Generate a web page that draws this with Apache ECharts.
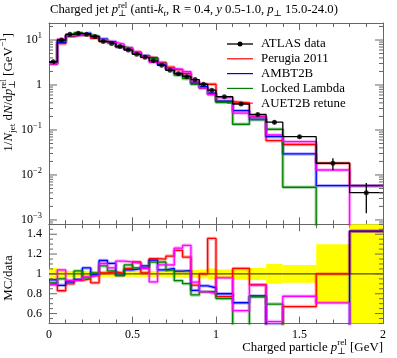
<!DOCTYPE html>
<html><head><meta charset="utf-8">
<script src="https://cdn.jsdelivr.net/npm/echarts@6/dist/echarts.min.js"></script>
<style>html,body{margin:0;padding:0;background:#fff;}#c{width:397px;height:358px;}</style>
</head><body><div id="c"></div>
<script>
// ---------------- data ----------------
const binEdges = [0,0.05,0.1,0.15,0.2,0.25,0.3,0.35,0.4,0.45,0.5,0.55,0.6,0.65,0.7,0.75,0.8,0.85,0.9,0.95,1.0,1.1,1.2,1.3,1.4,1.6,1.8,2.0];
const atlasData   = [3.29,10.0,13.45,14.1,13.45,11.96,9.26,8.36,7.17,5.99,4.81,4.13,3.45,2.74,2.12,1.77,1.53,1.32,1.04,0.766,0.55,0.378,0.221,0.149,0.071,0.0182,0.00404];
const atlasRelErr = [0.06,0.035,0.03,0.03,0.03,0.03,0.03,0.03,0.03,0.03,0.03,0.03,0.03,0.03,0.035,0.035,0.04,0.04,0.045,0.055,0.045,0.06,0.06,0.1,0.09,0.3,0.65];
const perugia2011  = [2.96,8.30,12.1,13.18,12.78,10.88,9.35,8.53,7.21,6.32,5.39,4.17,3.98,3.15,2.50,2.19,1.79,1.17,1.04,1.04,0.424,0.399,0.197,0.0578,0.0476,0.0182,0.00578];
const ambt2b       = [3.09,8.85,12.37,13.32,14.26,11.84,10.51,9.24,7.06,6.23,5.07,4.46,3.93,2.85,2.24,1.82,1.58,1.10,0.915,0.659,0.44,0.268,0.172,0.071,0.0293,0.00578,0.00578];
const lockedLambda = [2.99,9.5,12.44,14.52,12.91,12.08,10.0,8.61,7.06,6.53,5.10,4.38,3.86,3.07,2.20,1.65,1.38,1.04,0.853,0.628,0.413,0.134,0.170,0.1037,0.00533,0,0];
const auet2bRetune = [2.93,10.4,12.58,13.25,13.05,11.78,10.23,8.86,8.10,6.71,5.32,4.36,3.17,2.99,2.31,2.23,1.97,1.21,0.853,0.613,0.528,0.238,0.196,0.0774,0.055,0.0129,0];
const seriesNames  = ['ATLAS data','Perugia 2011','AMBT2B','Locked Lambda','AUET2B retune'];
const xTickLabels  = ['0','0.5','1','1.5','2'];
const logTickExponents = [-3,-2,-1,0,1];
const ratioTickValues  = [0.6,0.8,1,1.2,1.4];
const ratioTickLabels  = ['0.6','0.8','1','1.2','1.4'];

// ---------------- style ----------------
const FF = '"Liberation Serif","DejaVu Serif",serif';
const AX = '#666';
const COLORS = ['#000000','#ff0000','#0000ff','#008000','#ff00ff'];
const Y_MIN = 0.0008, Y_MAX = 23.9;
const mctx = document.createElement('canvas').getContext('2d');
function fontStr(s,it){return (it?'italic ':'')+s+'px '+FF;}
function tw(t,s,it){mctx.font=fontStr(s,it);return mctx.measureText(t).width;}
function textEl(t,x,y,s,it){return {type:'text',x:x,y:y,silent:true,style:{text:t,font:fontStr(s,it),fill:'#000',textAlign:'left',textVerticalAlign:'middle',align:'left',verticalAlign:'middle'}};}
function rich(pieces,base){
  let x=0;const ch=[];
  for(const p of pieces){
    if(p.stack){let w=0;
      for(const q of p.stack){const s=base*0.7;ch.push(textEl(q.t,x,q.sup?-base*0.38:base*0.3,s,q.it));w=Math.max(w,tw(q.t,s,q.it));}
      x+=w;
    } else {
      const s=(p.sup||p.sub)?base*0.7:base;
      const dy=p.sup?-base*0.38:(p.sub?base*0.3:0);
      ch.push(textEl(p.t,x,dy,s,p.it));x+=tw(p.t,s,p.it);
    }
  }
  return {children:ch,width:x};
}
function fitRich(pieces,target){const w=rich(pieces,12).width;return rich(pieces,12*target/w);}

function stepPts(vals,tf){const pts=[];vals.forEach((v,i)=>{const y=tf(v,i);pts.push([binEdges[i],y],[binEdges[i+1],y]);});return pts;}
const mcSets=[perugia2011,ambt2b,lockedLambda,auet2bRetune];

const series=[];
series.push({type:'custom',xAxisIndex:2,yAxisIndex:2,z:1,silent:true,animation:false,
  data:atlasRelErr.map((e,i)=>[binEdges[i],binEdges[i+1],1-e,1+e]),
  renderItem:(p,api)=>{
    const lo=Math.max(0.5,api.value(2)),hi=Math.min(1.5,api.value(3));
    const a=api.coord([api.value(0),hi]),b=api.coord([api.value(1),lo]);
    return {type:'rect',shape:{x:a[0],y:a[1],width:b[0]-a[0],height:b[1]-a[1]},style:{fill:'#ffff00'}};
  }});
series.push({type:'line',xAxisIndex:2,yAxisIndex:2,z:2,symbol:'none',silent:true,animation:false,
  data:stepPts(atlasData,()=>1),lineStyle:{color:'#222',width:1}});
mcSets.forEach((mc,k)=>{
  const col=COLORS[k+1];
  const main=stepPts(mc,v=>v>0?v:1e-9);
  const rat=stepPts(mc,(v,i)=>v/atlasData[i]);
  [[0,main],[2,rat]].forEach(([ax,pts])=>{
    series.push({type:'line',xAxisIndex:ax,yAxisIndex:ax,z:3,symbol:'none',silent:true,animation:false,clip:true,
      data:pts,lineStyle:{color:col,width:3.5,opacity:0.3}});
    series.push({type:'line',name:seriesNames[k+1],xAxisIndex:ax,yAxisIndex:ax,z:4,symbol:'none',silent:true,animation:false,clip:true,
      data:pts,lineStyle:{color:col,width:1.3}});
  });
});
series.push({type:'line',name:seriesNames[0],xAxisIndex:0,yAxisIndex:0,z:5,symbol:'none',silent:true,animation:false,clip:true,
  data:stepPts(atlasData,v=>v),lineStyle:{color:'#000',width:1.3}});
series.push({type:'custom',xAxisIndex:0,yAxisIndex:0,z:6,silent:true,animation:false,
  data:atlasData.map((v,i)=>[(binEdges[i]+binEdges[i+1])/2,v*(1-atlasRelErr[i]),v*(1+atlasRelErr[i])]),
  renderItem:(p,api)=>{const a=api.coord([api.value(0),api.value(1)]),b=api.coord([api.value(0),api.value(2)]);
    return {type:'line',shape:{x1:a[0],y1:a[1],x2:b[0],y2:b[1]},style:{stroke:'#000',lineWidth:1.3}};}});
series.push({type:'scatter',xAxisIndex:0,yAxisIndex:0,z:7,silent:true,animation:false,symbol:'circle',symbolSize:5,
  itemStyle:{color:'#000'},data:atlasData.map((v,i)=>[(binEdges[i]+binEdges[i+1])/2,v])});
function tl(x1,y1,x2,y2){return {type:'line',shape:{x1,y1,x2,y2},style:{stroke:AX,lineWidth:1}};}
const TICK_FS=12;
series.push({type:'custom',xAxisIndex:0,yAxisIndex:0,z:20,silent:true,animation:false,data:[[0,1]],
  renderItem:(p,api)=>{
    const cs=p.coordSys,L=cs.x,R=cs.x+cs.width;const els=[];
    for(let n=-4;n<=1;n++)for(let k=1;k<=9;k++){const v=k*Math.pow(10,n);if(v<Y_MIN||v>Y_MAX)continue;
      const y=api.coord([0,v])[1];const len=k===1?8:4;els.push(tl(L,y,L+len,y),tl(R,y,R-len,y));}
    logTickExponents.forEach(n=>{
      const y=api.coord([0,Math.pow(10,n)])[1];
      const pcs=n===0?[{t:'1'}]:[{t:'10'},{t:(n<0?'\u2212':'')+Math.abs(n),sup:true}];
      const g=rich(pcs,TICK_FS);els.push({type:'group',x:L-7-g.width,y:y,children:g.children});
    });
    return {type:'group',children:els};
  }});
series.push({type:'custom',xAxisIndex:2,yAxisIndex:2,z:20,silent:true,animation:false,data:[[0,1]],
  renderItem:(p,api)=>{
    const cs=p.coordSys,L=cs.x,R=cs.x+cs.width;const els=[];
    for(let i=0;i<=20;i++){const v=0.5+i*0.05;const y=api.coord([0,v])[1];
      const major=ratioTickValues.some(t=>Math.abs(t-v)<1e-6);const len=major?8:4;els.push(tl(L,y,L+len,y),tl(R,y,R-len,y));}
    ratioTickValues.forEach((v,i)=>{const y=api.coord([0,v])[1];const g=rich([{t:ratioTickLabels[i]}],TICK_FS);
      els.push({type:'group',x:L-7-g.width,y:y,children:g.children});});
    return {type:'group',children:els};
  }});

function xAx(g,pos,lab){return {type:'value',gridIndex:g,position:pos,min:0,max:2,interval:0.5,
  axisLine:{show:true,onZero:false,lineStyle:{color:AX,width:1}},
  axisTick:{show:true,inside:true,length:7,lineStyle:{color:AX}},
  minorTick:{show:true,splitNumber:5,length:4,lineStyle:{color:AX}},
  splitLine:{show:false},minorSplitLine:{show:false},
  axisLabel:{show:lab,margin:5,fontFamily:FF,fontSize:TICK_FS,color:'#000',formatter:v=>xTickLabels[Math.round(v/0.5)]}};}
function yAx(g,pos,log){const o={gridIndex:g,position:pos,axisLine:{show:true,onZero:false,lineStyle:{color:AX,width:1}},
  axisTick:{show:false},axisLabel:{show:false},splitLine:{show:false}};
  if(log){o.type='log';o.logBase=10;o.min=Y_MIN;o.max=Y_MAX;}else{o.type='value';o.min=0.5;o.max=1.5;}
  return o;}

const title=fitRich([{t:'Charged jet '},{t:'p',it:true},{stack:[{t:'rel',sup:true},{t:'\u22a5'}]},{t:' (anti-'},{t:'k',it:true},{t:'t',it:true,sub:true},
  {t:', R = 0.4, '},{t:'y',it:true},{t:' 0.5-1.0, '},{t:'p',it:true},{t:'\u22a5',sub:true},{t:' 15.0-24.0)'}],288);
const xTitle=fitRich([{t:'Charged particle '},{t:'p',it:true},{stack:[{t:'rel',sup:true},{t:'\u22a5'}]},{t:' [GeV]'}],141);
const yTitle=rich([{t:'1/'},{t:'N',it:true},{t:'jet',sub:true},{t:' d'},{t:'N',it:true},{t:'/d'},{t:'p',it:true},{stack:[{t:'rel',sup:true},{t:'\u22a5'}]},
  {t:' [GeV'},{t:'\u22121',sup:true},{t:']'}],13);
const rTitle=rich([{t:'MC/data'}],13);
const graphics=[
  {type:'group',x:50,y:10,children:title.children},
  {type:'group',x:383-xTitle.width,y:348,children:xTitle.children},
  {type:'group',x:9,y:33,rotation:Math.PI/2,children:yTitle.children.map(c=>Object.assign({},c,{x:c.x-yTitle.width}))},
  {type:'group',x:9,y:278-rTitle.width/2,rotation:Math.PI/2,children:rTitle.children.map(c=>Object.assign({},c,{x:c.x-rTitle.width}))}
];
const LEG_FS=12*84/tw('Locked Lambda',12,false);
seriesNames.forEach((nm,i)=>{
  const y=44+i*14.8;const ch=[{type:'line',shape:{x1:227,y1:y,x2:253,y2:y},style:{stroke:COLORS[i],lineWidth:i===0?1.3:1.2}}];
  if(i===0)ch.push({type:'circle',shape:{cx:240,cy:y,r:2.5},style:{fill:'#000'}});
  ch.push(textEl(nm,261,y,LEG_FS,false));
  graphics.push({type:'group',z:30,children:ch});
});

const chart=echarts.init(document.getElementById('c'),null,{renderer:'canvas',width:397,height:358});
chart.setOption({
  animation:false,
  grid:[{left:49,top:23,width:334,height:201.3},{left:49,top:224.3,width:334,height:99.2}],
  xAxis:[xAx(0,'bottom',false),xAx(0,'top',false),xAx(1,'bottom',true),xAx(1,'top',false)],
  yAxis:[yAx(0,'left',true),yAx(0,'right',true),yAx(1,'left',false),yAx(1,'right',false)],
  series:series,
  graphic:graphics
});
</script></body></html>
